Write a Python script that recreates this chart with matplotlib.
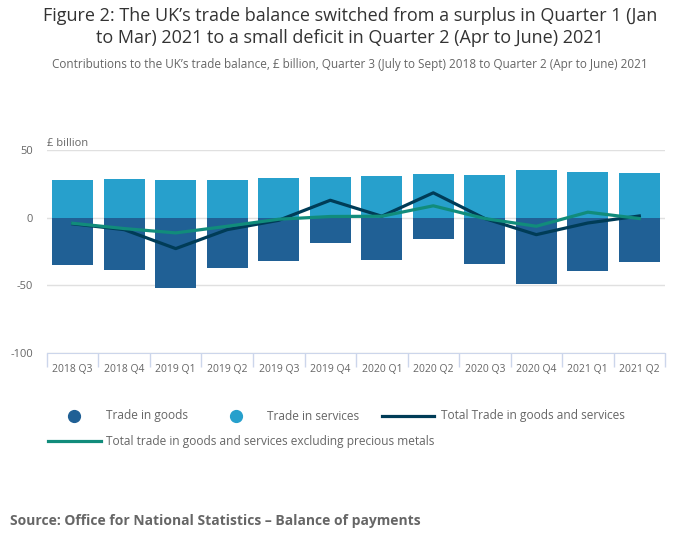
import matplotlib.pyplot as plt
import numpy as np

plt.rcParams['font.family'] = ['Open Sans', 'DejaVu Sans']

quarters = ['2018 Q3', '2018 Q4', '2019 Q1', '2019 Q2', '2019 Q3', '2019 Q4',
            '2020 Q1', '2020 Q2', '2020 Q3', '2020 Q4', '2021 Q1', '2021 Q2']
goods = [-34.7, -38.9, -52.2, -37.4, -32.2, -18.8, -31.4, -15.8, -34.4, -49.3, -39.6, -32.9]
services = [27.7, 28.5, 27.7, 27.7, 29.2, 30.0, 30.7, 32.2, 31.4, 35.1, 33.7, 32.9]
total = [-4.6, -8.9, -22.9, -8.9, -2.0, 12.8, 1.0, 18.3, -0.7, -12.6, -4.0, 1.2]
total_ex_metals = [-4.2, -8.1, -11.3, -6.4, -1.2, 0.8, 1.0, 8.7, -0.7, -6.4, 4.0, -0.7]

c_goods = '#206095'
c_services = '#27a0cc'
c_total = '#003c57'
c_ex = '#118c7b'
grey = '#666666'

fig = plt.figure(figsize=(7, 5.49), dpi=100)
ax = fig.add_axes([0.0671, 0.357, 0.883, 0.370])

x = np.arange(len(quarters))
ax.bar(x, services, width=0.79, color=c_services, zorder=2)
ax.bar(x, goods, width=0.79, color=c_goods, zorder=2)
ax.plot(x, total, color=c_total, lw=2.3, zorder=3)
ax.plot(x, total_ex_metals, color=c_ex, lw=2.3, zorder=4)

ax.set_xlim(-0.5, len(quarters) - 0.5)
ax.set_ylim(-100, 50)
ax.set_yticks([-100, -50, 0, 50])
ax.set_yticklabels(['-100', '-50', '0', '50'])
ax.grid(axis='y', color='#e0e0e0', lw=1, zorder=0)
ax.set_axisbelow(True)

for s in ['top', 'right', 'left']:
    ax.spines[s].set_visible(False)
ax.spines['bottom'].set_color('#ccd6eb')
ax.tick_params(axis='y', length=0, labelsize=8, labelcolor=grey, pad=10)
ax.set_xticks(x)
ax.set_xticklabels(quarters, fontsize=7.5, color=grey)
ax.tick_params(axis='x', length=0, pad=8)
ax.set_xticks(np.arange(-0.5, len(quarters) + 0.5, 1), minor=True)
ax.tick_params(axis='x', which='minor', length=10, color='#ccd6eb', width=1)

ax.text(0, 1.03, '£ billion', transform=ax.transAxes, fontsize=8,
        color=grey, ha='left', va='center')

fig.text(0.5, 0.988, 'Figure 2: The UK\u2019s trade balance switched from a surplus in Quarter 1 (Jan\n'
         'to Mar) 2021 to a small deficit in Quarter 2 (Apr to June) 2021',
         ha='center', va='top', fontsize=13, color='#333333', linespacing=1.3)
fig.text(0.5, 1 - 64 / 549, 'Contributions to the UK\u2019s trade balance, £ billion, Quarter 3 (July to Sept) 2018 '
         'to Quarter 2 (Apr to June) 2021',
         ha='center', va='center', fontsize=8.5, color=grey)

# legend drawn by hand in figure coordinates
ly1 = 1 - 416 / 549
ly2 = 1 - 441 / 549
fs_leg = 8.6
fig.lines.append(plt.Line2D([74 / 700], [ly1], marker='o', ms=8.5, color=c_goods,
                            transform=fig.transFigure, lw=0))
fig.text(106 / 700, ly1, 'Trade in goods', fontsize=fs_leg, color=grey, va='center')
fig.lines.append(plt.Line2D([236 / 700], [ly1], marker='o', ms=8.5, color=c_services,
                            transform=fig.transFigure, lw=0))
fig.text(267 / 700, ly1, 'Trade in services', fontsize=fs_leg, color=grey, va='center')
fig.lines.append(plt.Line2D([382 / 700, 434 / 700], [ly1, ly1], color=c_total, lw=2.3,
                            transform=fig.transFigure))
fig.text(441 / 700, ly1, 'Total Trade in goods and services', fontsize=fs_leg, color=grey, va='center')
fig.lines.append(plt.Line2D([48 / 700, 101 / 700], [ly2, ly2], color=c_ex, lw=2.3,
                            transform=fig.transFigure))
fig.text(106 / 700, ly2, 'Total trade in goods and services excluding precious metals',
         fontsize=fs_leg, color=grey, va='center')

fig.text(10 / 700, 1 - 521 / 549, 'Source: Office for National Statistics \u2013 Balance of payments',
         fontsize=10, fontweight='bold', color=grey, va='center')

fig.savefig('out.png', dpi=100)
